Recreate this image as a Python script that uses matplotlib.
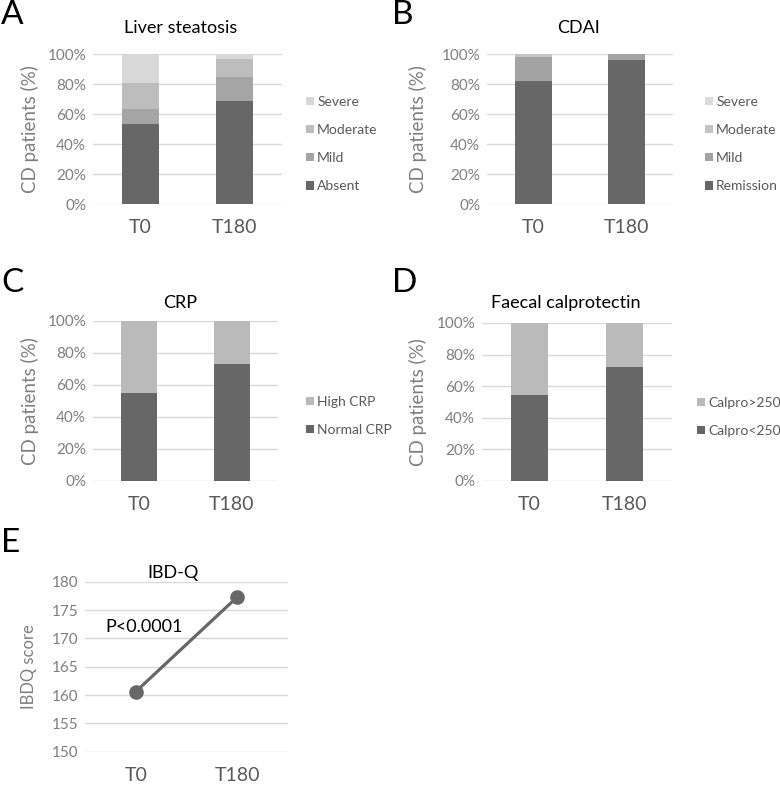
import matplotlib
matplotlib.use("Agg")
import matplotlib.pyplot as plt
from matplotlib.patches import Patch

plt.rcParams['font.family'] = ['Lato', 'DejaVu Sans']

# data (% of CD patients)
timepoints = ["T0", "T180"]

liver_labels = ["Absent", "Mild", "Moderate", "Severe"]
liver_absent = [53.1, 68.9]
liver_mild = [10.2, 15.5]
liver_moderate = [17.6, 12.0]
liver_severe = [19.1, 3.6]

cdai_labels = ["Remission", "Mild", "Moderate", "Severe"]
cdai_remission = [82.2, 96.0]
cdai_mild = [15.6, 4.0]
cdai_moderate = [2.2, 0.0]
cdai_severe = [0.0, 0.0]

crp_labels = ["Normal CRP", "High CRP"]
crp_normal = [54.7, 73.2]
crp_high = [45.3, 26.8]

calpro_labels = ["Calpro<250", "Calpro>250"]
calpro_low = [54.3, 72.1]
calpro_high = [45.7, 27.9]

ibdq_score = [160.6, 177.3]

W, H = 780, 785
fig = plt.figure(figsize=(W / 100, H / 100), dpi=100)

TICK_C = "#7f7f7f"
LAB_C = "#595959"
GRID_C = "#d9d9d9"


def px_axes(x0, y0, x1, y1):
    # pixel box (top-left origin) -> axes
    return fig.add_axes([x0 / W, 1 - y1 / H, (x1 - x0) / W, (y1 - y0) / H])


def ftext(x, y, s, **kw):
    fig.text(x / W, 1 - y / H, s, **kw)


def style(ax):
    for sp in ax.spines.values():
        sp.set_visible(False)
    ax.tick_params(length=0)
    ax.tick_params(axis="y", labelsize=11, labelcolor=TICK_C, pad=5)
    ax.tick_params(axis="x", labelsize=14, labelcolor=LAB_C, pad=11)
    ax.grid(axis="y", color=GRID_C, linewidth=1)
    ax.set_axisbelow(True)


def stacked(box, series, colors, labels, title, title_xy, ylab_x, leg_xy):
    ax = px_axes(*box)
    x = list(range(len(timepoints)))
    bottom = [0.0] * len(x)
    handles = []
    for vals, c, lab in zip(series, colors, labels):
        ax.bar(x, vals, width=0.39, bottom=bottom, color=c, zorder=3)
        bottom = [b + v for b, v in zip(bottom, vals)]
        handles.append(Patch(facecolor=c, label=lab))
    ax.set_xlim(-0.5, 1.5)
    ax.set_ylim(0, 100)
    ax.set_yticks([0, 20, 40, 60, 80, 100])
    ax.set_yticklabels([f"{v}%" for v in [0, 20, 40, 60, 80, 100]])
    ax.set_xticks(x)
    ax.set_xticklabels(timepoints)
    style(ax)
    ftext(title_xy[0], title_xy[1], title, ha="center", va="center", fontsize=13, color="black")
    cy = (box[1] + box[3]) / 2
    ftext(ylab_x, cy, "CD patients (%)", rotation=90, ha="center", va="center",
          fontsize=13.5, color=TICK_C)
    leg = fig.legend(handles=handles[::-1], loc="upper left",
                     bbox_to_anchor=(leg_xy[0] / W, 1 - leg_xy[1] / H),
                     frameon=False, fontsize=10, handlelength=0.55, handleheight=0.55,
                     handletextpad=0.25, labelspacing=1.16, borderpad=0, borderaxespad=0)
    for t in leg.get_texts():
        t.set_color(LAB_C)
    return ax


DARK = "#676767"
stacked((93, 54, 282, 204), [liver_absent, liver_mild, liver_moderate, liver_severe],
        [DARK, "#a5a5a5", "#bdbdbd", "#d8d8d8"], liver_labels,
        "Liver steatosis", (181, 28), 30, (306, 96))
stacked((487, 54, 673, 204), [cdai_remission, cdai_mild, cdai_moderate, cdai_severe],
        [DARK, "#a3a3a3", "#c4c4c4", "#dadada"], cdai_labels,
        "CDAI", (578, 28), 418, (705, 96))
stacked((93, 321, 278, 481), [crp_normal, crp_high],
        [DARK, "#bababa"], crp_labels,
        "CRP", (180, 303), 30, (306, 396))
stacked((482, 323, 672, 481), [calpro_low, calpro_high],
        [DARK, "#bababa"], calpro_labels,
        "Faecal calprotectin", (566, 303), 418, (697, 397))

# panel E: IBD-Q line
ax = px_axes(85, 581.7, 288, 751.7)
ax.plot([0, 1], ibdq_score, color=DARK, linewidth=2.3, marker="o", markersize=9.5,
        clip_on=False, zorder=3)
ax.set_xlim(-0.5, 1.5)
ax.set_ylim(150, 180)
ax.set_yticks([150, 155, 160, 165, 170, 175, 180])
ax.set_xticks([0, 1])
ax.set_xticklabels(timepoints)
style(ax)
ftext(173, 573, "IBD-Q", ha="center", va="center", fontsize=13, color="black")
ftext(144, 627, "P<0.0001", ha="center", va="center", fontsize=13, color="black")
ftext(29, 667, "IBDQ score", rotation=90, ha="center", va="center", fontsize=12, color=TICK_C)

# panel letters
for letter, (lx, ly) in zip("ABCDE", [(1, 15), (392, 15), (1, 283), (392, 283), (1, 543)]):
    ftext(lx, ly, letter, ha="left", va="center", fontsize=24, color="black")

fig.savefig("out.png", dpi=100)
